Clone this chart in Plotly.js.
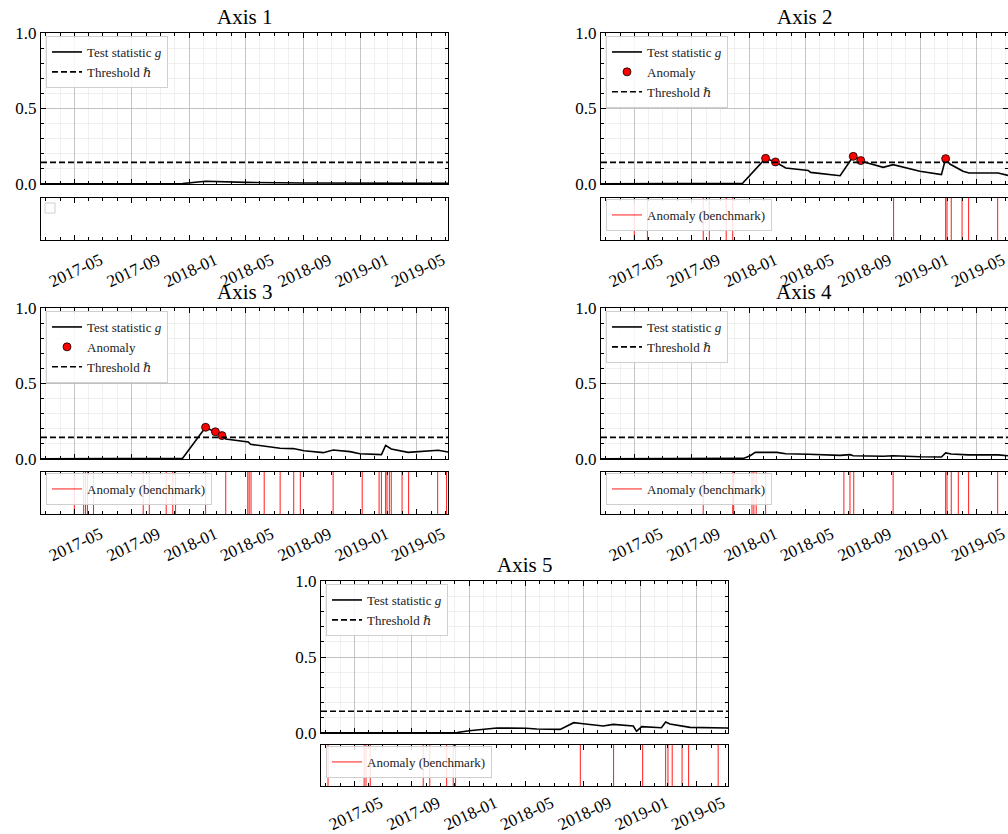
<!DOCTYPE html>
<html>
<head>
<meta charset="utf-8">
<script src="https://cdn.plot.ly/plotly-3.0.1.min.js"></script>
<style>html,body{margin:0;padding:0;background:#fff}#chart{width:1008px;height:834px}</style>
</head>
<body>
<div id="chart"></div>
<script>
// ---------------- DATA ----------------
const xRange = ["2017-02-19", "2019-07-07"];
const threshold = 0.143;
const panelTitles = ["Axis 1", "Axis 2", "Axis 3", "Axis 4", "Axis 5"];
const tickLabels = ["2017-05", "2017-09", "2018-01", "2018-05", "2018-09", "2019-01", "2019-05"];

const dates1 = ["2017-02-19","2017-12-18","2018-02-05","2018-03-01","2018-05-01","2018-09-01","2018-12-31","2019-07-07"];
const g1 = [0.002,0.003,0.018,0.015,0.011,0.007,0.004,0.004];
const anomDates1 = [];
const anomVals1 = [];
const bench1 = [];

const dates2 = ["2017-02-19","2017-10-15","2017-12-18","2018-02-05","2018-02-26","2018-03-20","2018-05-07","2018-05-12","2018-07-14","2018-08-11","2018-08-27","2018-09-03","2018-10-14","2018-11-04","2018-12-31","2019-02-15","2019-02-24","2019-03-05","2019-04-02","2019-04-15","2019-06-16","2019-07-07"];
const g2 = [0.002,0.003,0.005,0.170,0.146,0.106,0.090,0.077,0.055,0.183,0.155,0.146,0.110,0.128,0.084,0.062,0.168,0.132,0.084,0.073,0.073,0.057];
const anomDates2 = ["2018-02-05","2018-02-26","2018-08-11","2018-08-27","2019-02-24"];
const anomVals2 = [0.170,0.146,0.183,0.155,0.168];
const bench2 = ["2017-05-01","2017-05-29","2017-09-25","2017-10-08","2017-11-13","2017-11-27","2018-11-05","2019-02-24","2019-02-27","2019-03-08","2019-03-31","2019-04-14","2019-06-15"];

const dates3 = ["2017-02-19","2017-12-18","2018-02-05","2018-02-26","2018-03-12","2018-03-20","2018-05-07","2018-05-12","2018-06-15","2018-07-14","2018-08-11","2018-09-03","2018-10-14","2018-11-04","2018-12-10","2018-12-31","2019-02-15","2019-02-24","2019-03-08","2019-04-13","2019-06-16","2019-07-07"];
const g3 = [0.002,0.005,0.210,0.180,0.155,0.133,0.113,0.097,0.082,0.071,0.069,0.055,0.042,0.060,0.049,0.035,0.029,0.090,0.066,0.044,0.058,0.046];
const anomDates3 = ["2018-02-05","2018-02-26","2018-03-12"];
const anomVals3 = [0.210,0.180,0.155];
const bench3 = ["2017-05-01","2017-05-21","2017-05-25","2017-05-29","2017-06-11","2017-09-25","2017-10-08","2017-11-13","2017-11-27","2017-12-03","2018-02-05","2018-03-20","2018-05-06","2018-05-09","2018-05-13","2018-06-10","2018-07-14","2018-08-12","2018-08-26","2018-11-04","2019-01-05","2019-02-10","2019-02-15","2019-02-24","2019-02-27","2019-03-04","2019-03-08","2019-03-31","2019-04-14","2019-06-15","2019-07-04"];

const dates4 = ["2017-02-19","2017-12-20","2018-01-03","2018-01-14","2018-03-01","2018-03-20","2018-05-07","2018-06-15","2018-07-14","2018-08-04","2018-08-11","2018-10-14","2018-11-04","2018-12-31","2019-02-15","2019-02-24","2019-03-08","2019-04-13","2019-06-16","2019-07-07"];
const g4 = [0.002,0.004,0.022,0.044,0.044,0.035,0.031,0.027,0.024,0.029,0.022,0.018,0.022,0.015,0.013,0.040,0.033,0.027,0.027,0.022];
const anomDates4 = [];
const anomVals4 = [];
const bench4 = ["2017-09-25","2017-11-27","2017-11-29","2018-01-07","2018-01-11","2018-01-16","2018-02-05","2018-07-22","2018-08-04","2018-08-12","2018-11-04","2019-02-24","2019-02-27","2019-03-08","2019-03-23","2019-04-14","2019-06-15"];

const dates5 = ["2017-02-19","2017-12-06","2018-01-01","2018-03-01","2018-05-02","2018-05-25","2018-07-14","2018-08-12","2018-09-01","2018-10-14","2018-11-04","2018-12-17","2018-12-24","2019-01-04","2019-02-15","2019-02-24","2019-03-05","2019-04-02","2019-04-17","2019-07-04","2019-07-07"];
const g5 = [0.002,0.003,0.015,0.033,0.031,0.026,0.024,0.068,0.061,0.046,0.057,0.046,0.011,0.042,0.035,0.072,0.059,0.042,0.037,0.033,0.032];
const anomDates5 = [];
const anomVals5 = [];
const bench5 = ["2017-03-06","2017-05-22","2017-05-26","2017-06-04","2017-09-25","2017-10-09","2017-11-14","2017-11-28","2017-12-03","2018-08-26","2018-11-05","2019-01-06","2019-02-24","2019-03-01","2019-03-10","2019-03-31","2019-04-14","2019-06-16"];

const seriesDates = [dates1, dates2, dates3, dates4, dates5];
const seriesG = [g1, g2, g3, g4, g5];
const seriesAnomDates = [anomDates1, anomDates2, anomDates3, anomDates4, anomDates5];
const seriesAnomVals = [anomVals1, anomVals2, anomVals3, anomVals4, anomVals5];
const seriesBench = [bench1, bench2, bench3, bench4, bench5];

// ---------------- LAYOUT GEOMETRY (pixels) ----------------
const W = 1008, H = 834;
const cols = [[41, 448], [601, 1008], [41, 448], [601, 1008], [321, 728]];
const rows = [[33, 184, 198, 240], [33, 184, 198, 240], [308, 459, 472, 514], [308, 459, 472, 514], [581, 733, 745, 786]];
const labelStandoff = [3, 3, 3, 3, 0];
const PX = p => p / W;
const PY = p => 1 - p / H;

const FONT = "Liberation Serif, 'DejaVu Serif', serif";
const data = [];
const layout = {
  width: W, height: H,
  margin: {l: 0, r: 0, t: 0, b: 0},
  paper_bgcolor: "#fff", plot_bgcolor: "#fff",
  font: {family: FONT, color: "#000", size: 16},
  showlegend: true,
  annotations: [], shapes: []
};

function vlines(dates) {
  const x = [], y = [];
  dates.forEach(d => { x.push(d, d, null); y.push(0, 1, null); });
  return {x, y};
}

for (let i = 0; i < 5; i++) {
  const mi = i + 1, si = i + 6;
  const [xl, xr] = cols[i];
  const [mt, mb, st, sb] = rows[i];
  const mainLeg = "legend" + (2 * i + 1 === 1 ? "" : (2 * i + 1));
  const stripLeg = "legend" + (2 * i + 2);
  const xm = "x" + mi, ym = "y" + mi, xs = "x" + si, ys = "y" + si;

  // test statistic
  data.push({x: seriesDates[i], y: seriesG[i], xaxis: xm, yaxis: ym, type: "scatter", mode: "lines",
    name: "Test statistic <i>g</i>", line: {color: "#000", width: 1.6}, legend: mainLeg, cliponaxis: true});
  if (seriesAnomDates[i].length) {
    data.push({x: seriesAnomDates[i], y: seriesAnomVals[i], xaxis: xm, yaxis: ym, type: "scatter", mode: "markers",
      name: "Anomaly", marker: {color: "#ff0000", size: 8, line: {color: "#000", width: 0.8}}, legend: mainLeg, cliponaxis: false});
  }
  data.push({x: xRange, y: [threshold, threshold], xaxis: xm, yaxis: ym, type: "scatter", mode: "lines",
    name: "Threshold <i>ℏ</i>", line: {color: "#000", width: 1.6, dash: "6px,3px"}, legend: mainLeg});
  if (seriesBench[i].length) {
    const v = vlines(seriesBench[i]);
    data.push({x: v.x, y: v.y, xaxis: xs, yaxis: ys, type: "scatter", mode: "lines",
      name: "Anomaly (benchmark)", line: {color: "rgba(255,0,0,0.9)", width: 1}, legend: stripLeg});
  } else {
    // no benchmark anomalies: empty trace so the strip axes are still drawn
    data.push({x: [], y: [], xaxis: xs, yaxis: ys, type: "scatter", mode: "lines", showlegend: false, hoverinfo: "skip"});
    // empty legend frame
    layout.shapes.push({type: "rect", xref: "paper", yref: "paper", x0: PX(xl + 4), x1: PX(xl + 14), y0: PY(st + 15), y1: PY(st + 5),
      line: {color: "#d0d0d0", width: 1}, fillcolor: "rgba(255,255,255,0)"});
  }

  const common = {showline: true, linecolor: "#000", linewidth: 1, mirror: "ticks", zeroline: false,
    ticks: "inside", tickcolor: "#000", ticklen: 5, tickwidth: 1};
  layout["xaxis" + mi] = Object.assign({}, common, {
    domain: [PX(xl), PX(xr)], anchor: ym, matches: xs, type: "date", range: xRange,
    tick0: "2017-01-01", dtick: "M4", showticklabels: false,
    showgrid: true, gridcolor: "#b5b5b5", gridwidth: 0.8,
    minor: {dtick: "M1", ticks: "inside", ticklen: 3, tickcolor: "#000", showgrid: true, gridcolor: "#ececec", gridwidth: 0.8}
  });
  layout["yaxis" + mi] = Object.assign({}, common, {
    domain: [PY(mb), PY(mt)], anchor: xm, range: [0, 1], tickvals: [0, 0.5, 1], ticktext: ["0.0", "0.5", "1.0"],
    tickfont: {size: 17, family: FONT}, showgrid: true, gridcolor: "#b5b5b5", gridwidth: 0.8,
    minor: {dtick: 0.1, tick0: 0, ticks: "inside", ticklen: 3, tickcolor: "#000", showgrid: true, gridcolor: "#ececec", gridwidth: 0.8}
  });
  layout["xaxis" + si] = Object.assign({}, common, {
    domain: [PX(xl), PX(xr)], anchor: ys, type: "date", range: xRange,
    tick0: "2017-01-01", dtick: "M4", tickformat: "%Y-%m", tickangle: -25, ticklabelshift: 26, ticklabelstandoff: labelStandoff[i],
    tickfont: {size: 17, family: FONT}, showgrid: false,
    minor: {dtick: "M1", ticks: "inside", ticklen: 3, tickcolor: "#000", showgrid: false}
  });
  layout["yaxis" + si] = {
    domain: [PY(sb), PY(st)], anchor: xs, range: [0, 1], showticklabels: false, ticks: "", showgrid: false,
    zeroline: false, showline: true, linecolor: "#000", linewidth: 1, mirror: true
  };

  const legBase = {bgcolor: "rgba(255,255,255,0.85)", bordercolor: "#d0d0d0", borderwidth: 1,
    font: {size: 13, family: FONT, color: "#222"}, xanchor: "left", yanchor: "top", itemwidth: 30, tracegroupgap: 0};
  layout[mainLeg] = Object.assign({}, legBase, {x: PX(xl + 5), y: PY(mt + 3)});
  layout[stripLeg] = Object.assign({}, legBase, {x: PX(xl + 5), y: PY(st + 1)});

  layout.annotations.push({text: panelTitles[i], xref: "paper", yref: "paper", x: (PX(xl) + PX(xr)) / 2, y: PY(mt - 16),
    xanchor: "center", yanchor: "middle", showarrow: false, font: {size: 21, family: FONT, color: "#000"}});
}

Plotly.newPlot("chart", data, layout, {staticPlot: true, displayModeBar: false});
</script>
</body>
</html>
